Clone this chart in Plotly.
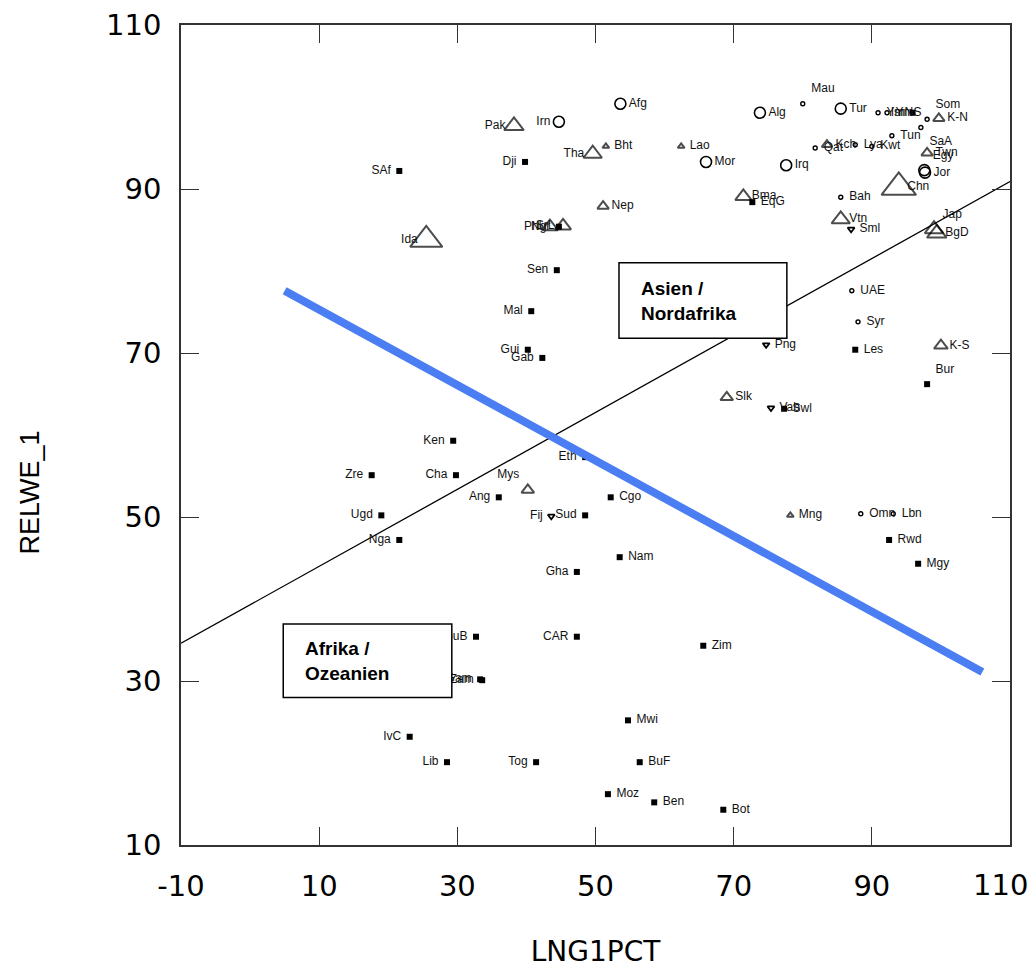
import plotly.graph_objects as go

# ---- data ----
# filled squares
sq_names = ["SAf","Dji","Sen","Mal","Gui","Gab","Ken","Zre","Cha","Ang","Ugd","Nga","Eth","Cgo","Sud",
            "Nam","Gha","GuB","CAR","Zim","Zam","Gam","Mwi","IvC","Lib","Tog","BuF","Moz","Ben","Bot",
            "EqG","Les","Bur","Rwd","Mgy","Swl","Isr","Ngr"]
sq_x = [21.6,39.8,44.4,40.7,40.2,42.3,29.4,17.6,29.8,36.0,19.0,21.6,48.5,52.2,48.5,
        53.5,47.3,32.7,47.3,65.6,33.6,33.3,54.7,23.1,28.5,41.4,56.4,51.8,58.5,68.5,
        72.7,87.6,98.0,92.5,96.7,77.3,95.9,44.7]
sq_y = [92.2,93.3,80.1,75.1,70.4,69.4,59.3,55.1,55.1,52.4,50.2,47.2,57.3,52.4,50.2,
        45.1,43.3,35.4,35.4,34.3,30.1,30.2,25.2,23.2,20.1,20.1,20.1,16.2,15.2,14.3,
        88.4,70.4,66.2,47.2,44.3,63.2,99.3,85.4]
sq_pos = ["L","L","L","L","L","L","L","L","L","L","L","L","L","R","L",
          "R","L","L","L","R","L","L","R","L","L","L","R","R","R","R",
          "R","R","TR","R","R","R","L","L"]

# open circles
ci_names = ["Afg","Irn","Alg","Tur","Mor","Irq","Egy","Jor"]
ci_x = [53.6,44.7,73.8,85.5,66.0,77.6,97.6,97.7]
ci_y = [100.4,98.2,99.3,99.8,93.3,92.9,92.3,92.0]
ci_pos = ["R","L","R","R","R","R","TR","R"]

# small dots
dot_names = ["Mau","YmN","YmS","Som","SaA","Tun","Qat","Lya","Kwt","Bah","UAE","Syr","Omn","Lbn"]
dot_x = [80.0,90.9,92.2,98.0,97.1,92.9,81.8,87.6,90.0,85.5,87.1,88.0,88.4,93.1]
dot_y = [100.4,99.3,99.3,98.5,97.5,96.5,95.0,95.4,95.2,89.0,77.6,73.8,50.4,50.4]
dot_pos = ["TR","R","R","TR","BR","R","R","R","R","R","R","R","R","R"]

# open triangles (size ~ population)
tr_names = ["Pak","Tha","Bht","Lao","Nep","Ida","Phl","SrL","Bma","Vtn","Chn","Twn","Jap","BgD",
            "Kch","K-N","K-S","Slk","Mys","Mng"]
tr_x = [38.2,49.6,51.5,62.4,51.1,25.5,43.4,45.3,71.4,85.5,93.9,98.0,99.0,99.4,
        83.5,99.7,100.0,69.0,40.2,78.2]
tr_y = [97.7,94.3,95.2,95.2,87.9,83.8,85.4,85.5,89.1,86.3,90.2,94.4,85.1,84.6,
        95.4,98.6,70.9,64.6,53.3,50.2]
tr_pos = ["L","L","R","R","R","L","L","L","R","R","R","R","TR","R",
          "R","R","R","R","TL","R"]
tr_size = [17,16,6,6,10,28,14,14,14,16,30,10,16,17,9,10,12,11,11,6]

# small down triangles
dn_names = ["Png","Fij","Vab","Sml"]
dn_x = [74.7,43.6,75.4,87.0]
dn_y = [71.0,50.1,63.3,85.1]
dn_pos = ["R","L","R","R"]

# lines
reg_x = [-10, 110]
reg_y = [34.6, 90.9]
blue_x = [5, 106]
blue_y = [77.6, 31.1]

# ticks (last x label drawn separately so it stays inside the page)
x_ticks = [-10, 10, 30, 50, 70, 90, 110]
x_ticktext = ["-10", "10", "30", "50", "70", "90", ""]
x_last_label = "110"
y_ticks = [10, 30, 50, 70, 90, 110]

FONT = "Liberation Sans, Arial, Helvetica, sans-serif"
TICKFONT = "DejaVu Sans, Liberation Sans, sans-serif"
posmap = {"L": "middle left", "R": "middle right", "TR": "top right", "TL": "top left", "BR": "bottom right"}

fig = go.Figure()

fig.add_trace(go.Scatter(x=reg_x, y=reg_y, mode="lines", line=dict(color="black", width=1.3),
                         showlegend=False, hoverinfo="skip"))

fig.add_trace(go.Scatter(x=sq_x, y=sq_y, mode="markers", text=sq_names,
                         marker=dict(symbol="square", size=6, color="black"), showlegend=False))
fig.add_trace(go.Scatter(x=ci_x, y=ci_y, mode="markers", text=ci_names,
                         marker=dict(symbol="circle-open", size=11, color="black",
                                     line=dict(width=1.6, color="black")),
                         showlegend=False))
fig.add_trace(go.Scatter(x=dot_x, y=dot_y, mode="markers", text=dot_names,
                         marker=dict(symbol="circle-open", size=4, color="black",
                                     line=dict(width=1.4, color="black")),
                         showlegend=False))
fig.add_trace(go.Scatter(x=tr_x, y=tr_y, mode="markers", text=tr_names,
                         marker=dict(symbol="triangle-up-open", size=tr_size, color="black",
                                     line=dict(width=2, color="black")),
                         showlegend=False))
fig.add_trace(go.Scatter(x=dn_x, y=dn_y, mode="markers", text=dn_names,
                         marker=dict(symbol="triangle-down-open", size=6, color="black",
                                     line=dict(width=1.8, color="black")),
                         showlegend=False))

# labels
lab_names = sq_names + ci_names + dot_names + tr_names + dn_names
lab_x = sq_x + ci_x + dot_x + tr_x + dn_x
lab_y = sq_y + ci_y + dot_y + tr_y + dn_y
lab_pos = [posmap[p] for p in (sq_pos + ci_pos + dot_pos + tr_pos + dn_pos)]
fig.add_trace(go.Scatter(x=lab_x, y=lab_y, mode="markers+text", text=lab_names, textposition=lab_pos,
                         textfont=dict(family=FONT, size=12, color="#111"),
                         marker=dict(size=12, opacity=0), showlegend=False, hoverinfo="skip"))

fig.add_trace(go.Scatter(x=blue_x, y=blue_y, mode="lines", line=dict(color="#4a7ef2", width=8),
                         showlegend=False, hoverinfo="skip"))

# boxes
fig.add_shape(type="rect", xref="x", yref="y", x0=53.4, x1=77.7, y0=71.8, y1=81.0,
              fillcolor="white", line=dict(color="black", width=1.5), layer="above")
fig.add_shape(type="rect", xref="x", yref="y", x0=4.8, x1=29.2, y0=28.0, y1=36.95,
              fillcolor="white", line=dict(color="black", width=1.5), layer="above")
fig.add_annotation(x=56.3, y=76.4, xref="x", yref="y", xanchor="left", yanchor="middle", align="left",
                   text="<b>Asien /<br>Nordafrika</b>", showarrow=False,
                   font=dict(family=FONT, size=19, color="black"))
fig.add_annotation(x=7.6, y=32.5, xref="x", yref="y", xanchor="left", yanchor="middle", align="left",
                   text="<b>Afrika /<br>Ozeanien</b>", showarrow=False,
                   font=dict(family=FONT, size=19, color="black"))

# y-axis title placed like the reference (left, slightly below centre)
fig.add_annotation(x=-0.182, y=0.43, xref="paper", yref="paper", xanchor="center", yanchor="middle",
                   text="RELWE_1", textangle=-90, showarrow=False,
                   font=dict(family="Liberation Sans Narrow, " + FONT, size=27, color="black"))

# last x tick label, nudged left so it fits inside the page
fig.add_annotation(x=x_ticks[-1], y=0, xref="x", yref="paper", xanchor="right", yanchor="middle",
                   xshift=20, yshift=-40, text=x_last_label, showarrow=False,
                   font=dict(family=TICKFONT, size=29, color="black"))

axis_common = dict(showgrid=False, zeroline=False, showline=True, linecolor="#333", linewidth=1.5,
                   mirror="ticks", ticks="inside", ticklen=18, tickwidth=1.3, tickcolor="#333",
                   automargin=False,
                   tickfont=dict(family=TICKFONT, size=29, color="black"))

fig.update_xaxes(range=[-10, 110], tickvals=x_ticks, ticktext=x_ticktext, ticklabelstandoff=14,
                 title=dict(text="LNG1PCT", font=dict(family=TICKFONT, size=28, color="black"), standoff=53),
                 **axis_common)
fig.update_yaxes(range=[10, 110], tickvals=y_ticks, ticklabelstandoff=12, **axis_common)

fig.update_layout(width=1032, height=968, margin=dict(l=181, r=22, t=25, b=123),
                  plot_bgcolor="white", paper_bgcolor="white")

fig.write_html("out.html")
